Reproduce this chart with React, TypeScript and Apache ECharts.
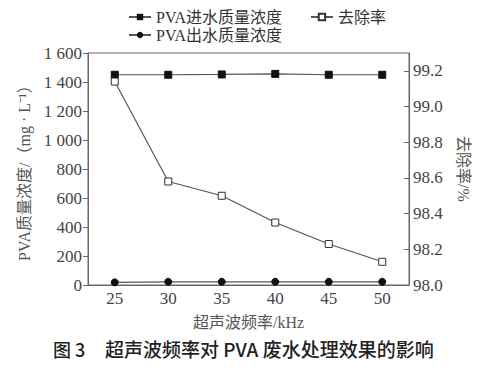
import React, { useEffect, useRef } from "react";
import * as echarts from "echarts";

const frequencies = ["25", "30", "35", "40", "45", "50"];
const inletConc = [1450, 1450, 1452, 1456, 1450, 1450];
const outletConc = [18, 22, 22, 22, 22, 22];
const removalRate = [99.14, 98.58, 98.5, 98.35, 98.23, 98.13];
const leftTicks = [0, 200, 400, 600, 800, 1000, 1200, 1400, 1600];
const rightTicks = [98.0, 98.2, 98.4, 98.6, 98.8, 99.0, 99.2];

const SERIF = "Liberation Serif, Noto Sans CJK SC, serif";

export default function App() {
  const ref = useRef<HTMLDivElement>(null);
  useEffect(() => {
    if (!ref.current) return;
    const chart = echarts.init(ref.current, null, { renderer: "svg" });
    const axisColor = "#666";
    const textColor = "#444";
    chart.setOption({
      animation: false,
      backgroundColor: "#fff",
      textStyle: { fontFamily: SERIF },
      grid: {
        left: 88,
        right: 83,
        top: 53,
        bottom: 89,
        show: true,
        borderColor: axisColor,
        borderWidth: 1,
      },
      legend: [
        {
          data: ["PVA进水质量浓度", "去除率"],
          left: 123,
          top: 4,
          itemWidth: 22,
          itemHeight: 8,
          itemGap: 28,
          textStyle: { fontFamily: SERIF, fontSize: 16, color: "#333" },
        },
        {
          data: ["PVA出水质量浓度"],
          left: 123,
          top: 22,
          itemWidth: 22,
          itemHeight: 8,
          textStyle: { fontFamily: SERIF, fontSize: 16, color: "#333" },
        },
      ],
      xAxis: {
        type: "category",
        data: frequencies,
        boundaryGap: true,
        name: "超声波频率/kHz",
        nameLocation: "middle",
        nameGap: 29,
        nameTextStyle: { fontFamily: SERIF, fontSize: 16, color: "#555" },
        axisLine: { lineStyle: { color: axisColor } },
        axisTick: { show: false },
        axisLabel: { fontFamily: SERIF, fontSize: 17, color: textColor, margin: 5 },
        splitLine: { show: false },
      },
      yAxis: [
        {
          type: "value",
          min: 0,
          max: 1600,
          interval: 200,
          name: "PVA质量浓度/（mg · L⁻¹）",
          nameLocation: "middle",
          nameRotate: 90,
          nameGap: 39,
          nameTextStyle: { fontFamily: SERIF, fontSize: 16, color: "#555" },
          axisLine: { show: true, lineStyle: { color: axisColor } },
          axisTick: { show: true, inside: false, length: 5, lineStyle: { color: axisColor } },
          axisLabel: {
            fontFamily: SERIF,
            fontSize: 17,
            color: textColor,
            margin: 6,
            customValues: leftTicks,
            formatter: (v: number) =>
              v >= 1000 ? Math.floor(v / 1000) + " " + String(v % 1000).padStart(3, "0") : String(v),
          },
          splitLine: { show: false },
        },
        {
          type: "value",
          min: 98.0,
          max: 99.3,
          position: "right",
          name: "去除率/%",
          nameLocation: "middle",
          nameRotate: -90,
          nameGap: 46,
          nameTextStyle: { fontFamily: SERIF, fontSize: 16, color: "#555" },
          axisLine: { show: true, lineStyle: { color: axisColor } },
          axisTick: {
            show: true,
            inside: true,
            length: 5,
            customValues: rightTicks,
            lineStyle: { color: axisColor },
          },
          axisLabel: {
            fontFamily: SERIF,
            fontSize: 17,
            color: textColor,
            margin: 4,
            customValues: rightTicks,
            formatter: (v: number) => v.toFixed(1),
          },
          splitLine: { show: false },
        },
      ],
      series: [
        {
          name: "PVA进水质量浓度",
          type: "line",
          yAxisIndex: 0,
          data: inletConc,
          symbol: "rect",
          symbolSize: 7,
          lineStyle: { color: "#555", width: 1.2 },
          itemStyle: { color: "#111", borderColor: "#111" },
        },
        {
          name: "去除率",
          type: "line",
          yAxisIndex: 1,
          data: removalRate,
          symbol: "rect",
          symbolSize: 7,
          lineStyle: { color: "#555", width: 1.2 },
          itemStyle: { color: "#fff", borderColor: "#333", borderWidth: 1 },
        },
        {
          name: "PVA出水质量浓度",
          type: "line",
          yAxisIndex: 0,
          data: outletConc,
          symbol: "circle",
          symbolSize: 7,
          lineStyle: { color: "#555", width: 1.2 },
          itemStyle: { color: "#111", borderColor: "#111" },
        },
      ],
      graphic: [
        {
          type: "text",
          left: 53,
          top: 340,
          style: {
            text: "图 3",
            fontFamily: "Noto Sans CJK SC, Noto Sans, sans-serif",
            fontSize: 18,
            fontWeight: 500,
            fill: "#222",
          },
        },
        {
          type: "text",
          left: 105,
          top: 339,
          style: {
            text: "超声波频率对 PVA 废水处理效果的影响",
            fontFamily: "Noto Sans CJK SC, Noto Sans, sans-serif",
            fontSize: 19,
            fontWeight: 500,
            fill: "#222",
          },
        },
      ],
    });
    return () => chart.dispose();
  }, []);
  return <div ref={ref} style={{ width: 492, height: 374, position: "absolute", left: 0, top: 0 }} />;
}
